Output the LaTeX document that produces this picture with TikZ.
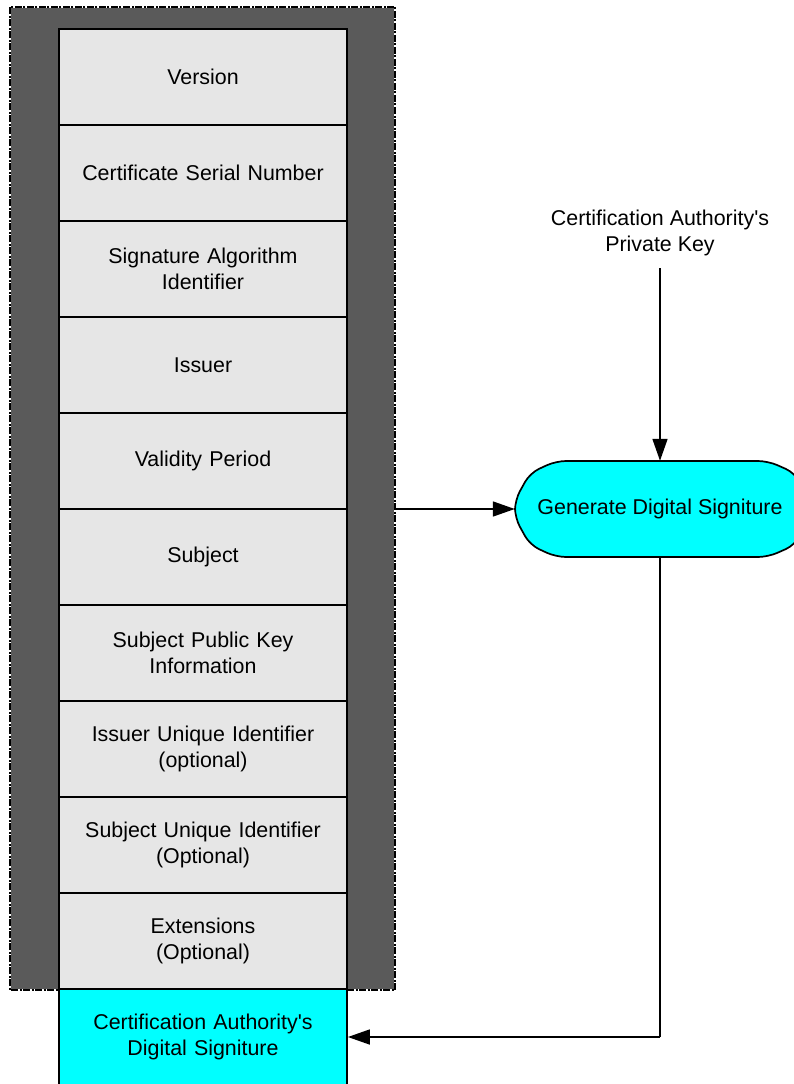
\documentclass[tikz,border=0pt]{standalone}
\usepackage{fontspec}
\setmainfont{Liberation Sans}[Ligatures=TeXOff]
\usetikzlibrary{arrows.meta}
\definecolor{darkfill}{HTML}{5A5A5A}
\definecolor{rowfill}{HTML}{E6E6E6}
\definecolor{cyanfill}{HTML}{00FFFF}
\begin{document}
\begin{tikzpicture}[x=1pt,y=1pt,
  font=\fontsize{21.4}{25.7}\selectfont,
  rowbox/.style={draw=black, line width=1.8pt, fill=rowfill, minimum width=288pt, minimum height=96pt, text width=270pt, align=center, inner sep=0pt},
  sigbox/.style={rowbox, fill=cyanfill},
  arr/.style={-{Triangle[length=22pt,width=15pt]}, line width=1.7pt},
  ln/.style={line width=1.7pt}
]
\useasboundingbox (0,0) rectangle (793,-1084);
% dark container
\fill[darkfill] (10,-7) rectangle (395,-990);
\draw[white, line width=1.7pt] (10,-7) rectangle (395,-990);
\draw[black, line width=1.7pt, dash pattern=on 7pt off 1.5pt on 2pt off 1.5pt] (10,-7) rectangle (395,-990);
\coordinate (darkR) at (395,-509);
% rows
\node[rowbox] (r1) at (203,-77) {Version};
\node[rowbox] (r2) at (203,-173) {Certificate Serial Number};
\node[rowbox] (r3) at (203,-269) {Signature Algorithm\\Identifier};
\node[rowbox] (r4) at (203,-365) {Issuer};
\node[rowbox] (r5) at (203,-461) {Validity Period};
\node[rowbox] (r6) at (203,-557) {Subject};
\node[rowbox] (r7) at (203,-653) {Subject Public Key\\Information};
\node[rowbox] (r8) at (203,-749) {Issuer Unique Identifier\\(optional)};
\node[rowbox] (r9) at (203,-845) {Subject Unique Identifier\\(Optional)};
\node[rowbox] (r10) at (203,-941) {Extensions\\(Optional)};
\node[sigbox] (sig) at (203,-1037) {Certification Authority's\\Digital Signiture};
% generate node outline
\draw[fill=cyanfill, line width=1.7pt, rounded corners=10pt]
  (556,-461) -- (768,-461) -- (795,-473) -- (810,-500) -- (810,-518) -- (795,-545)
  -- (768,-557) -- (556,-557) -- (530,-545) -- (515,-518) -- (515,-500) -- (530,-473) -- cycle;
\node[inner sep=0pt, minimum width=290pt, minimum height=96pt] (gen) at (660,-509) {Generate Digital Signiture};
% private key text
\node[align=center, inner sep=0pt] (pk) at (660,-233) {Certification Authority's\\Private Key};
\coordinate (pkS) at (660,-268);
\coordinate (bend) at (660,-1037);
% connectors
\draw[arr] (pkS) -- (gen.north);
\draw[arr] (darkR) -- (gen.west);
\draw[ln] (gen.south) -- (bend);
\draw[arr] (bend) -- (sig.east);
\end{tikzpicture}
\end{document}
